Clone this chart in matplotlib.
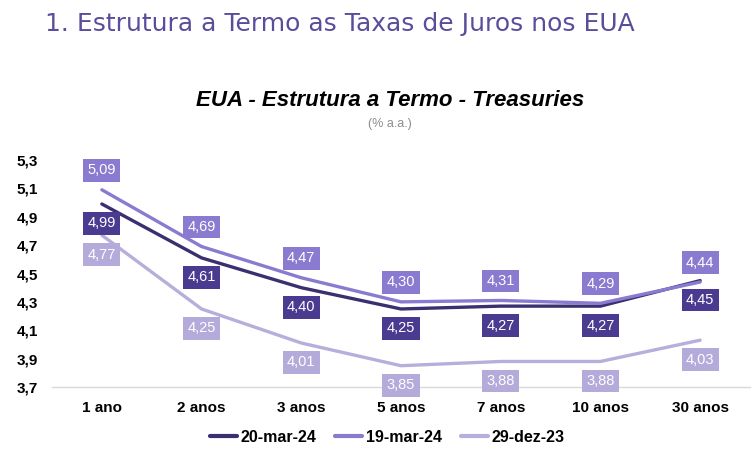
import matplotlib
matplotlib.use("Agg")
import matplotlib.pyplot as plt

prazos = ['1 ano', '2 anos', '3 anos', '5 anos', '7 anos', '10 anos', '30 anos']
mar20 = [4.99, 4.61, 4.40, 4.25, 4.27, 4.27, 4.45]
mar19 = [5.09, 4.69, 4.47, 4.30, 4.31, 4.29, 4.44]
dez29 = [4.77, 4.25, 4.01, 3.85, 3.88, 3.88, 4.03]
yticks = [3.7, 3.9, 4.1, 4.3, 4.5, 4.7, 4.9, 5.1, 5.3]

plt.rcParams['font.family'] = ['Liberation Sans', 'DejaVu Sans']

fig = plt.figure(figsize=(7.56, 4.74), dpi=100)
ax = fig.add_axes([52 / 756, 87 / 474, 698 / 756, 227 / 474])

series = [
    ('20-mar-24', mar20, '#3b2f70', '#4b3b90', 1),
    ('19-mar-24', mar19, '#8a7ad0', '#8a7ad0', -1),
    ('29-dez-23', dez29, '#b8aedc', '#b5abda', 1),
]

x = list(range(len(prazos)))
for nome, vals, cor, cor_box, lado in series:
    ax.plot(x, vals, color=cor, lw=2.4, label=nome, solid_capstyle='round')
    for xi, v in zip(x, vals):
        ax.annotate(f'{v:.2f}'.replace('.', ','), (xi, v),
                    xytext=(0, -14 * lado), textcoords='offset points',
                    ha='center', va='center', color='white', fontsize=10.5,
                    bbox=dict(boxstyle='square,pad=0.3', fc=cor_box, ec='none'))

ax.set_xlim(-0.5, 6.5)
ax.set_ylim(3.7, 5.3)
ax.set_xticks(x)
ax.set_xticklabels(prazos, fontsize=11, fontweight='bold')
ax.set_yticks(yticks)
ax.set_yticklabels([f'{t:.1f}'.replace('.', ',') for t in yticks],
                   fontsize=11, fontweight='bold')
ax.tick_params(length=0)
ax.tick_params(axis='y', pad=10)
ax.tick_params(axis='x', pad=10)
for s in ['top', 'right', 'left']:
    ax.spines[s].set_visible(False)
ax.spines['bottom'].set_color('#d9d9d9')
ax.spines['bottom'].set_linewidth(1)

leg = fig.legend(loc='center', bbox_to_anchor=(387 / 756, 1 - 437 / 474), ncol=3,
                 frameon=False, prop={'size': 11.5, 'weight': 'bold'},
                 handlelength=1.7, handletextpad=0.2, columnspacing=1.2)
for h in leg.get_lines():
    h.set_linewidth(3)

fig.text(45 / 756, 1 - 24 / 474, '1. Estrutura a Termo as Taxas de Juros nos EUA',
         fontsize=18, color='#5a4e9c', family=['DejaVu Sans'],
         ha='left', va='center')
fig.text(390 / 756, 1 - 100 / 474, 'EUA - Estrutura a Termo - Treasuries',
         fontsize=16, fontweight='bold', fontstyle='italic', ha='center', va='center')
fig.text(390 / 756, 1 - 124 / 474, '(% a.a.)', fontsize=9, color='#8c8c8c',
         ha='center', va='center')

fig.savefig('out.png', dpi=100)
